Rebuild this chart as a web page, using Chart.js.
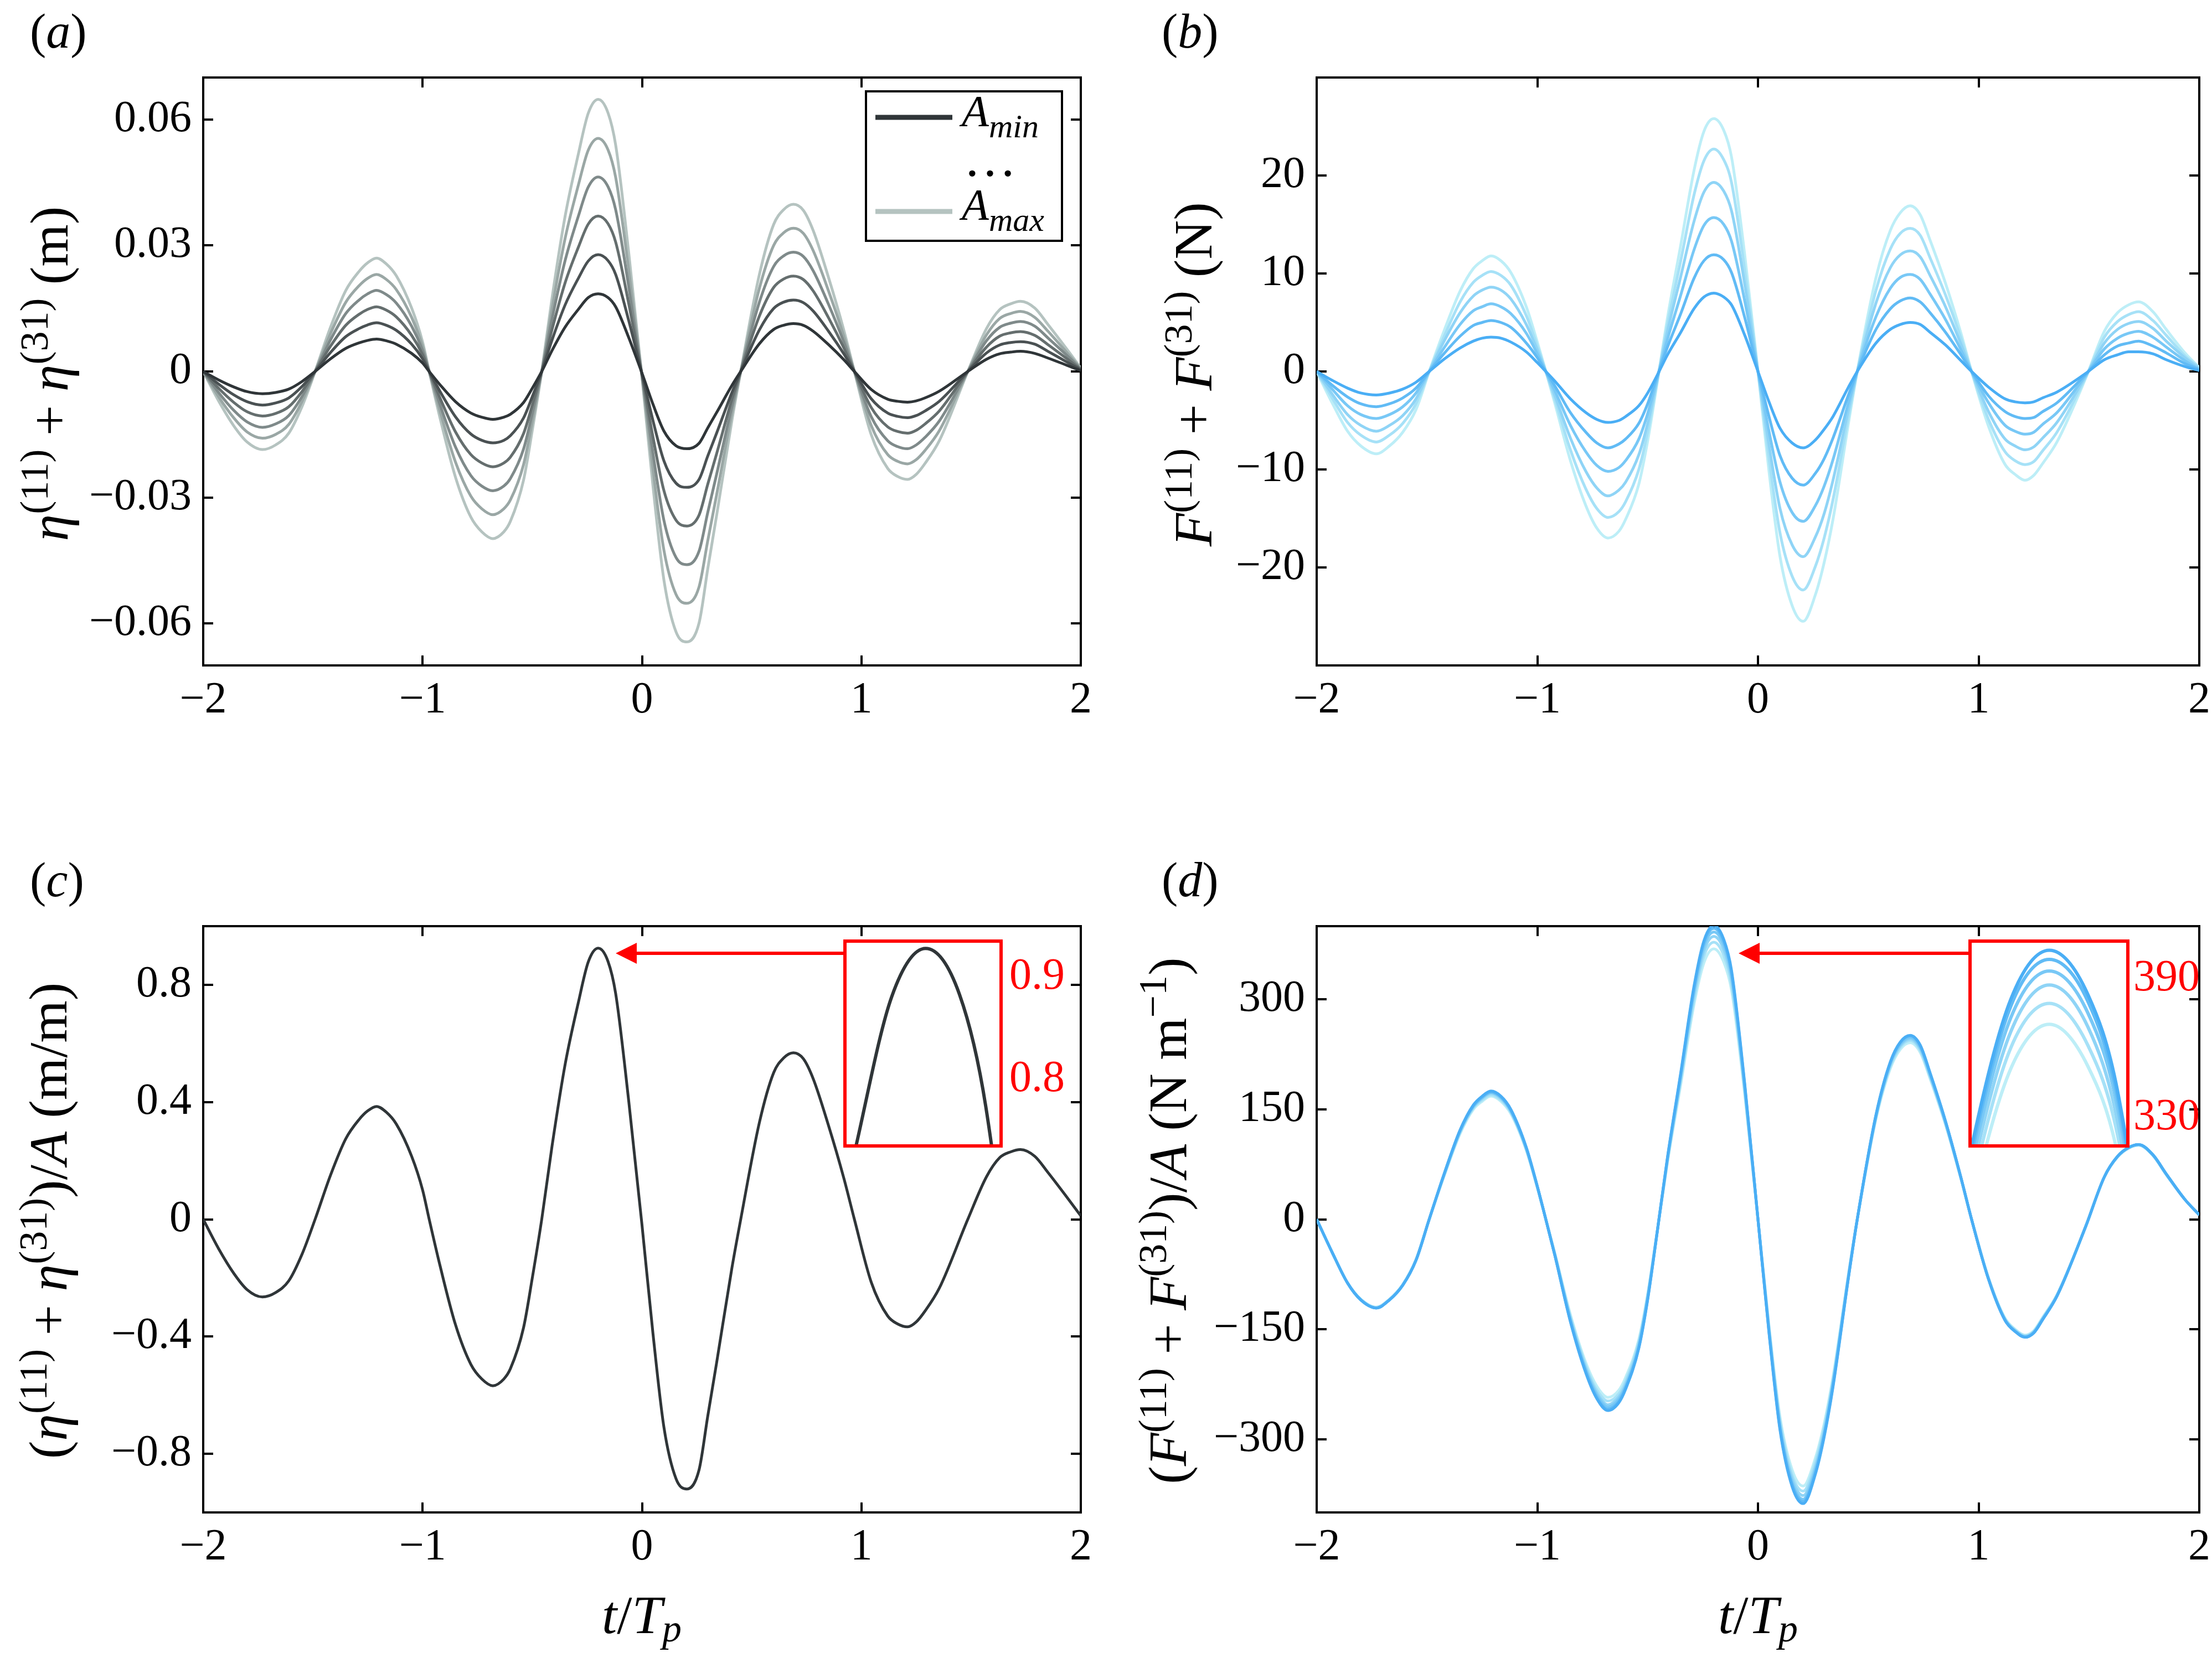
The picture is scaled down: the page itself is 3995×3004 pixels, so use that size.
<!DOCTYPE html>
<html>
<head>
<meta charset="utf-8">
<script src="https://cdn.jsdelivr.net/npm/chart.js@4.4.1/dist/chart.umd.min.js"></script>
<style>
  html, body { margin: 0; padding: 0; background: #fff; }
  #page { position: relative; width: 3995px; height: 3004px; overflow: hidden; background: #fff; }
  canvas { position: absolute; }
  svg { position: absolute; left: 0; top: 0; }
  text { font-family: 'Liberation Serif', 'Times New Roman', serif; white-space: pre; }
</style>
</head>
<body>
<div id="page">
  <canvas id="panelA"></canvas>
  <canvas id="panelB"></canvas>
  <canvas id="panelC"></canvas>
  <canvas id="panelD"></canvas>
  <canvas id="insetC" style="background:#fff"></canvas>
  <canvas id="insetD" style="background:#fff"></canvas>

  <svg width="3995" height="3004" viewBox="0 0 3995 3004">
    <!-- panel letters -->
    <text x="54" y="86" font-size="88">(<tspan font-style="italic">a</tspan>)</text>
    <text x="2098" y="86" font-size="88">(<tspan font-style="italic">b</tspan>)</text>
    <text x="54" y="1619" font-size="88">(<tspan font-style="italic">c</tspan>)</text>
    <text x="2098" y="1619" font-size="88">(<tspan font-style="italic">d</tspan>)</text>

    <!-- y titles -->
    <text transform="translate(122,675) rotate(-90)" text-anchor="middle" font-size="98"><tspan font-style="italic">η</tspan><tspan font-size="72" dy="-36">(11)</tspan><tspan dy="36"> + </tspan><tspan font-style="italic">η</tspan><tspan font-size="72" dy="-36">(31)</tspan><tspan dy="36"> (m)</tspan></text>
    <text transform="translate(2188,676) rotate(-90)" text-anchor="middle" font-size="98"><tspan font-style="italic">F</tspan><tspan font-size="72" dy="-36">(11)</tspan><tspan dy="36"> + </tspan><tspan font-style="italic">F</tspan><tspan font-size="72" dy="-36">(31)</tspan><tspan dy="36"> (N)</tspan></text>
    <text transform="translate(120,2205) rotate(-90)" text-anchor="middle" font-size="98">(<tspan font-style="italic">η</tspan><tspan font-size="72" dy="-36">(11)</tspan><tspan dy="36"> + </tspan><tspan font-style="italic">η</tspan><tspan font-size="72" dy="-36">(31)</tspan><tspan dy="36">)/</tspan><tspan font-style="italic">A</tspan> (m/m)</text>
    <text transform="translate(2142,2205) rotate(-90)" text-anchor="middle" font-size="98">(<tspan font-style="italic">F</tspan><tspan font-size="72" dy="-36">(11)</tspan><tspan dy="36"> + </tspan><tspan font-style="italic">F</tspan><tspan font-size="72" dy="-36">(31)</tspan><tspan dy="36">)/</tspan><tspan font-style="italic">A</tspan> (N m<tspan font-size="72" dy="-36">−1</tspan><tspan dy="36">)</tspan></text>

    <!-- x titles -->
    <text x="1159" y="2950" text-anchor="middle" font-size="98"><tspan font-style="italic">t</tspan>/<tspan font-style="italic">T</tspan><tspan font-style="italic" font-size="70" dy="15">p</tspan></text>
    <text x="3175" y="2950" text-anchor="middle" font-size="98"><tspan font-style="italic">t</tspan>/<tspan font-style="italic">T</tspan><tspan font-style="italic" font-size="70" dy="15">p</tspan></text>

    <!-- legend of panel a -->
    <rect x="1564" y="165" width="354" height="270" fill="#fff" stroke="#000" stroke-width="4"/>
    <line id="legMin" x1="1581" y1="212" x2="1720" y2="212" stroke-width="9"/>
    <line id="legMax" x1="1581" y1="382" x2="1720" y2="382" stroke-width="9"/>
    <text x="1737" y="228" font-size="80" font-style="italic">A<tspan font-size="60" dy="20">min</tspan></text>
    <text x="1740" y="318" font-size="96">…</text>
    <text x="1737" y="397" font-size="80" font-style="italic">A<tspan font-size="60" dy="20">max</tspan></text>

    <!-- zoom boxes and arrows -->
    <rect x="1526" y="1700" width="282" height="370" fill="none" stroke="#ff0000" stroke-width="6"/>
    <line x1="1146" y1="1722" x2="1523" y2="1722" stroke="#ff0000" stroke-width="6"/>
    <polygon points="1112,1722 1150,1703 1150,1741" fill="#ff0000"/>
    <text x="1823" y="1786" font-size="80" fill="#ff0000">0.9</text>
    <text x="1823" y="1971" font-size="80" fill="#ff0000">0.8</text>

    <rect x="3558" y="1700" width="285" height="370" fill="none" stroke="#ff0000" stroke-width="6"/>
    <line x1="3174" y1="1722" x2="3555" y2="1722" stroke="#ff0000" stroke-width="6"/>
    <polygon points="3140,1722 3178,1703 3178,1741" fill="#ff0000"/>
    <text x="3853" y="1789" font-size="80" fill="#ff0000">390</text>
    <text x="3853" y="2040" font-size="80" fill="#ff0000">330</text>
  </svg>
</div>

<script>
// time axis, t/Tp
const tGrid = [-2, -1.93, -1.86, -1.8, -1.73, -1.67, -1.61, -1.55, -1.49, -1.42, -1.35, -1.29, -1.25, -1.21,
  -1.165, -1.12, -1.05, -1.0, -0.97, -0.92, -0.85, -0.78, -0.73, -0.68, -0.63, -0.6, -0.54, -0.5, -0.457,
  -0.41, -0.35, -0.29, -0.245, -0.2, -0.155, -0.12, -0.06, 0, 0.05, 0.1, 0.155, 0.205, 0.26, 0.3, 0.34,
  0.41, 0.45, 0.535, 0.6, 0.645, 0.69, 0.735, 0.78, 0.85, 0.92, 0.968, 1.045, 1.12, 1.165, 1.21, 1.25,
  1.29, 1.355, 1.485, 1.57, 1.63, 1.68, 1.725, 1.79, 1.85, 1.935, 2];

// (a) eta(11)+eta(31) in m, Amin ... Amax
const eta1 = [0, -0.002, -0.0037, -0.0048, -0.0053, -0.005, -0.0042, -0.0024, 0, 0.003, 0.0055, 0.0068, 0.0074, 0.0077,
  0.0073, 0.0065, 0.0043, 0.002, 0, -0.0032, -0.0072, -0.0099, -0.0109, -0.0114, -0.0109, -0.0102, -0.0074, -0.004, 0,
  0.005, 0.0106, 0.0148, 0.0176, 0.0185, 0.0176, 0.0154, 0.008, -0.0004, -0.0078, -0.0142, -0.0177, -0.0184, -0.0171, -0.0134, -0.0098,
  -0.0033, 0, 0.0066, 0.01, 0.011, 0.0114, 0.011, 0.0096, 0.0064, 0.0028, 0, -0.0043, -0.0066, -0.0071, -0.0073, -0.007,
  -0.0063, -0.0047, 0, 0.0029, 0.0042, 0.0046, 0.0048, 0.0043, 0.0032, 0.0015, 0.0002];
const eta2 = [0, -0.003, -0.0056, -0.0072, -0.008, -0.0075, -0.0063, -0.0036, 0, 0.0045, 0.0083, 0.0102, 0.0111, 0.0116,
  0.011, 0.0098, 0.0065, 0.003, 0, -0.0048, -0.0108, -0.0149, -0.0164, -0.017, -0.0164, -0.0153, -0.0111, -0.006, 0,
  0.0075, 0.0159, 0.0222, 0.0263, 0.0278, 0.0264, 0.0231, 0.012, -0.0006, -0.0117, -0.0213, -0.0266, -0.0276, -0.0257, -0.0201, -0.0147,
  -0.005, 0, 0.0099, 0.015, 0.0165, 0.017, 0.0164, 0.0144, 0.0096, 0.0042, 0, -0.0065, -0.0099, -0.0107, -0.011, -0.0105,
  -0.0094, -0.0071, 0, 0.0044, 0.0063, 0.0069, 0.0071, 0.0065, 0.0048, 0.0023, 0.0004];
const eta3 = [0, -0.004, -0.0074, -0.0096, -0.0106, -0.01, -0.0084, -0.0048, 0, 0.006, 0.011, 0.0136, 0.0148, 0.0154,
  0.0146, 0.013, 0.0086, 0.004, 0, -0.0064, -0.0144, -0.0198, -0.0218, -0.0227, -0.0218, -0.0204, -0.0148, -0.008, 0,
  0.01, 0.0212, 0.0296, 0.0351, 0.037, 0.0352, 0.0308, 0.016, -0.0008, -0.0156, -0.0284, -0.0354, -0.0368, -0.0342, -0.0268, -0.0196,
  -0.0066, 0, 0.0132, 0.02, 0.022, 0.0227, 0.0219, 0.0192, 0.0128, 0.0056, 0, -0.0086, -0.0132, -0.0143, -0.0147, -0.014,
  -0.0125, -0.0094, 0, 0.0058, 0.0084, 0.0092, 0.0095, 0.0086, 0.0064, 0.0031, 0.0005];
const eta4 = [0, -0.005, -0.0093, -0.012, -0.0133, -0.0125, -0.0105, -0.006, 0, 0.0075, 0.0138, 0.017, 0.0185, 0.0193,
  0.0183, 0.0163, 0.0108, 0.005, 0, -0.008, -0.018, -0.0248, -0.0273, -0.0284, -0.0273, -0.0255, -0.0185, -0.01, 0,
  0.0125, 0.0265, 0.037, 0.0439, 0.0463, 0.044, 0.0385, 0.02, -0.001, -0.0195, -0.0355, -0.0443, -0.046, -0.0428, -0.0335, -0.0245,
  -0.0083, 0, 0.0165, 0.025, 0.0275, 0.0284, 0.0274, 0.024, 0.016, 0.007, 0, -0.0108, -0.0165, -0.0179, -0.0184, -0.0175,
  -0.0157, -0.0118, 0, 0.0073, 0.0105, 0.0115, 0.0119, 0.0108, 0.008, 0.0039, 0.0006];
const eta5 = [0, -0.006, -0.0111, -0.0144, -0.0159, -0.015, -0.0126, -0.0072, 0, 0.009, 0.0165, 0.0204, 0.0222, 0.0231,
  0.0219, 0.0195, 0.0129, 0.006, 0, -0.0096, -0.0216, -0.0297, -0.0327, -0.0341, -0.0327, -0.0306, -0.0222, -0.012, 0,
  0.015, 0.0318, 0.0444, 0.0527, 0.0555, 0.0528, 0.0462, 0.024, -0.0012, -0.0234, -0.0426, -0.0531, -0.0552, -0.0513, -0.0402, -0.0294,
  -0.0099, 0, 0.0198, 0.03, 0.033, 0.0341, 0.0329, 0.0288, 0.0192, 0.0084, 0, -0.0129, -0.0198, -0.0214, -0.022, -0.021,
  -0.0188, -0.0141, 0, 0.0087, 0.0126, 0.0138, 0.0143, 0.0129, 0.0096, 0.0046, 0.0007];
const eta6 = [0, -0.007, -0.013, -0.0168, -0.0186, -0.0175, -0.0147, -0.0084, 0, 0.0105, 0.0193, 0.0238, 0.0259, 0.027,
  0.0256, 0.0228, 0.0151, 0.007, 0, -0.0112, -0.0252, -0.0347, -0.0382, -0.0398, -0.0382, -0.0357, -0.0259, -0.014, 0,
  0.0175, 0.0371, 0.0518, 0.0615, 0.0648, 0.0616, 0.0539, 0.028, -0.0014, -0.0273, -0.0497, -0.062, -0.0644, -0.0599, -0.0469, -0.0343,
  -0.0116, 0, 0.0231, 0.035, 0.0385, 0.0398, 0.0384, 0.0336, 0.0224, 0.0098, 0, -0.0151, -0.0231, -0.025, -0.0257, -0.0245,
  -0.0219, -0.0165, 0, 0.0102, 0.0147, 0.0161, 0.0167, 0.0151, 0.0112, 0.0054, 0.0008];

// (b) F(11)+F(31) in N
const force1 = [0, -0.9, -1.7, -2.2, -2.4, -2.2, -1.8, -1.1, 0, 1.3, 2.4, 3.1, 3.4, 3.5,
  3.4, 3.0, 2.0, 0.9, 0.2, -1.0, -2.8, -4.2, -4.9, -5.2, -5.0, -4.6, -3.5, -2.2, -0.4,
  1.7, 4.0, 6.4, 7.6, 8.0, 7.6, 6.8, 3.7, 0, -3.1, -5.8, -7.3, -7.8, -7.0, -5.9, -4.6,
  -1.6, 0, 2.9, 4.3, 4.8, 5.0, 4.8, 4.0, 2.7, 1.1, 0, -1.6, -2.8, -3.1, -3.2, -3.1,
  -2.7, -2.1, -0.2, 1.2, 1.7, 2.0, 2.0, 1.8, 1.2, 0.5, 0.1];
const force2 = [0, -1.4, -2.6, -3.3, -3.6, -3.3, -2.7, -1.7, 0, 1.9, 3.6, 4.7, 5.0, 5.2,
  5.0, 4.5, 2.9, 1.4, 0.3, -1.5, -4.2, -6.2, -7.3, -7.8, -7.4, -6.9, -5.3, -3.3, -0.5,
  2.5, 5.9, 9.5, 11.3, 11.9, 11.4, 10.1, 5.5, 0, -4.6, -8.6, -10.9, -11.6, -10.4, -8.9, -6.8,
  -2.4, 0, 4.3, 6.4, 7.2, 7.5, 7.1, 6.0, 4.0, 1.7, 0, -2.5, -4.1, -4.6, -4.8, -4.7,
  -4.1, -3.2, -0.3, 1.7, 2.6, 2.9, 3.1, 2.6, 1.9, 0.8, 0.2];
const force3 = [0, -1.8, -3.5, -4.4, -4.8, -4.4, -3.6, -2.2, 0, 2.5, 4.8, 6.2, 6.6, 6.9,
  6.6, 5.9, 3.9, 1.8, 0.4, -2.0, -5.5, -8.2, -9.6, -10.2, -9.8, -9.1, -6.9, -4.3, -0.7,
  3.3, 7.8, 12.4, 14.9, 15.7, 15.0, 13.3, 7.2, 0, -6.1, -11.3, -14.4, -15.3, -13.7, -11.7, -9.0,
  -3.2, 0, 5.6, 8.5, 9.6, 9.9, 9.4, 7.9, 5.3, 2.2, 0, -3.2, -5.5, -6.1, -6.4, -6.2,
  -5.4, -4.2, -0.4, 2.3, 3.4, 3.9, 4.1, 3.5, 2.5, 1.1, 0.2];
const force4 = [0, -2.3, -4.4, -5.5, -6.1, -5.5, -4.5, -2.8, 0, 3.2, 6.0, 7.7, 8.3, 8.6,
  8.3, 7.4, 4.8, 2.2, 0.5, -2.5, -6.8, -10.2, -11.9, -12.7, -12.1, -11.3, -8.5, -5.3, -0.9,
  4.1, 9.7, 15.3, 18.3, 19.3, 18.4, 16.4, 8.9, 0, -7.5, -14.0, -17.7, -18.9, -16.9, -14.5, -11.1,
  -3.9, 0, 7.0, 10.6, 11.9, 12.3, 11.7, 9.8, 6.6, 2.8, 0, -4.1, -6.9, -7.6, -8.0, -7.7,
  -6.8, -5.2, -0.5, 2.9, 4.3, 4.9, 5.1, 4.4, 3.1, 1.4, 0.3];
const force5 = [0, -2.7, -5.2, -6.5, -7.2, -6.5, -5.3, -3.3, 0, 3.7, 7.1, 9.1, 9.8, 10.2,
  9.8, 8.8, 5.7, 2.6, 0.6, -2.9, -8.0, -12.0, -14.0, -14.9, -14.3, -13.3, -10.0, -6.2, -1.0,
  4.8, 11.3, 18.0, 21.5, 22.7, 21.6, 19.3, 10.4, 0, -8.9, -16.5, -20.9, -22.3, -19.9, -17.0, -13.1,
  -4.6, 0, 8.3, 12.5, 14.1, 14.6, 13.9, 11.6, 7.8, 3.4, 0, -4.9, -8.2, -9.1, -9.5, -9.2,
  -8.1, -6.2, -0.6, 3.5, 5.1, 5.8, 6.1, 5.2, 3.7, 1.6, 0.4];
const force6 = [0, -3.2, -6.1, -7.6, -8.4, -7.6, -6.2, -3.9, 0, 4.3, 8.2, 10.5, 11.3, 11.8,
  11.3, 10.1, 6.6, 3.0, 0.7, -3.3, -9.1, -13.7, -16.0, -17.0, -16.3, -15.1, -11.5, -7.1, -1.2,
  5.5, 12.9, 20.5, 24.5, 25.8, 24.6, 21.9, 11.9, 0, -10.2, -18.9, -23.9, -25.5, -22.8, -19.5, -15.1,
  -5.3, 0, 9.6, 14.4, 16.2, 16.9, 16.0, 13.4, 9.0, 3.9, 0, -5.6, -9.5, -10.5, -11.1, -10.6,
  -9.4, -7.2, -0.7, 4.1, 6.0, 6.8, 7.1, 6.1, 4.3, 1.9, 0.4];

// (c) (eta(11)+eta(31))/A in m/m (all amplitudes collapse onto one curve)
const etaPerA = [0, -0.1, -0.185, -0.24, -0.265, -0.25, -0.21, -0.12, 0, 0.15, 0.275, 0.34, 0.37, 0.385,
  0.365, 0.325, 0.215, 0.1, 0, -0.16, -0.36, -0.495, -0.545, -0.568, -0.545, -0.51, -0.37, -0.2, 0,
  0.25, 0.53, 0.74, 0.878, 0.925, 0.88, 0.77, 0.4, -0.02, -0.39, -0.71, -0.885, -0.92, -0.855, -0.67, -0.49,
  -0.165, 0, 0.33, 0.5, 0.55, 0.568, 0.548, 0.48, 0.32, 0.14, 0, -0.215, -0.33, -0.357, -0.367, -0.35,
  -0.313, -0.235, 0, 0.145, 0.21, 0.23, 0.238, 0.215, 0.16, 0.077, 0.012];

// (d) (F(11)+F(31))/A in N/m
const forcePerA1 = [0, -45, -87, -110, -121, -110, -90, -56, 0, 64, 122, 156, 168, 175,
  168, 150, 98, 45, 10, -50, -140, -210, -245, -261, -250, -232, -176, -110, -18,
  85, 200, 318, 380, 401, 382, 340, 185, 0, -155, -288, -365, -388, -348, -297, -229,
  -80, 0, 143, 215, 242, 251, 238, 200, 134, 57, 0, -82, -138, -153, -161, -155,
  -137, -105, -10, 58, 86, 98, 102, 88, 62, 27, 6];
const forcePerA2 = [0, -45, -87, -110, -121, -110, -90, -56, 0, 64, 121, 155, 167, 174,
  167, 149, 98, 45, 10, -50, -139, -208, -243, -259, -248, -230, -175, -109, -18,
  84, 198, 315, 377, 397, 379, 337, 183, 0, -154, -286, -362, -385, -346, -295, -227,
  -79, 0, 142, 214, 241, 250, 237, 199, 133, 57, 0, -82, -138, -153, -161, -155,
  -137, -105, -10, 58, 86, 98, 102, 88, 62, 27, 6];
const forcePerA3 = [0, -45, -87, -110, -121, -110, -90, -56, 0, 63, 121, 154, 166, 173,
  166, 148, 97, 44, 10, -49, -137, -206, -240, -256, -245, -228, -173, -108, -18,
  83, 196, 311, 372, 392, 374, 333, 181, 0, -152, -283, -359, -382, -342, -292, -225,
  -79, 0, 141, 213, 239, 248, 235, 198, 133, 56, 0, -81, -137, -152, -160, -154,
  -136, -104, -10, 58, 86, 98, 102, 88, 62, 27, 6];
const forcePerA4 = [0, -45, -87, -110, -121, -110, -90, -56, 0, 63, 120, 153, 165, 172,
  165, 147, 96, 44, 10, -49, -135, -203, -237, -253, -242, -225, -170, -106, -18,
  82, 193, 306, 366, 386, 368, 327, 178, 0, -150, -280, -354, -377, -338, -289, -222,
  -78, 0, 140, 211, 237, 246, 233, 196, 132, 56, 0, -81, -137, -152, -160, -154,
  -136, -104, -10, 58, 86, 98, 102, 88, 62, 27, 6];
const forcePerA5 = [0, -45, -87, -109, -120, -109, -89, -55, 0, 62, 118, 152, 163, 170,
  163, 146, 95, 44, 10, -48, -133, -200, -233, -248, -238, -221, -167, -104, -17,
  80, 189, 300, 359, 378, 360, 321, 174, 0, -148, -275, -349, -371, -332, -284, -219,
  -76, 0, 139, 209, 235, 244, 231, 194, 130, 56, 0, -81, -136, -151, -159, -153,
  -135, -104, -10, 58, 85, 97, 101, 87, 61, 27, 6];
const forcePerA6 = [0, -45, -87, -109, -120, -109, -89, -55, 0, 61, 117, 150, 161, 168,
  161, 144, 94, 43, 10, -47, -130, -196, -228, -243, -233, -216, -164, -102, -17,
  78, 184, 293, 350, 369, 351, 313, 170, 0, -145, -270, -342, -364, -326, -279, -215,
  -75, 0, 137, 206, 232, 241, 228, 192, 129, 55, 0, -80, -135, -150, -158, -152,
  -134, -103, -10, 58, 85, 97, 101, 87, 61, 27, 6];

// ticks
const xTicks = [-2, -1, 0, 1, 2];
const xTickLabels = ['−2', '−1', '0', '1', '2'];
const etaTicks = [-0.06, -0.03, 0, 0.03, 0.06];
const etaTickLabels = ['−0.06', '−0.03', '0', '0.03', '0.06'];
const forceTicks = [-20, -10, 0, 10, 20];
const forceTickLabels = ['−20', '−10', '0', '10', '20'];
const etaPerATicks = [-0.8, -0.4, 0, 0.4, 0.8];
const etaPerATickLabels = ['−0.8', '−0.4', '0', '0.4', '0.8'];
const forcePerATicks = [-300, -150, 0, 150, 300];
const forcePerATickLabels = ['−300', '−150', '0', '150', '300'];

// colours: first entry = Amin
const greyShades = ['#2f3538', '#4a5153', '#656e6e', '#7f8a8a', '#9aa7a5', '#b5c3c0'];
const blueShades = ['#4aaef5', '#61bbf5', '#78c8f6', '#8fd4f6', '#a6e1f7', '#bdeef7'];

// layout (page pixels)
const AXIS_W = 300, AXIS_H = 150, TOP_PAD = 12, RIGHT_PAD = 40;
const tickFont = { family: "'Liberation Serif', 'Times New Roman', serif", size: 80 };

function toPoints(values) {
  return tGrid.map((t, i) => ({ x: t, y: values[i] }));
}

function lineSets(seriesList, colors, width) {
  return seriesList.map((s, k) => ({
    data: toPoints(s),
    borderColor: colors[k],
    borderWidth: width,
    pointRadius: 0,
    fill: false,
    cubicInterpolationMode: 'monotone'
  }));
}

function axis(pos, range, ticks, labels, showLabels) {
  return {
    type: 'linear',
    position: pos,
    min: range[0],
    max: range[1],
    afterBuildTicks: s => { s.ticks = ticks.map(v => ({ value: v })); },
    afterFit: s => {
      if (pos === 'left') s.width = AXIS_W;
      else if (pos === 'right') s.width = RIGHT_PAD;
      else if (pos === 'bottom') s.height = AXIS_H;
      else s.height = TOP_PAD;
      // keep label overhang from shrinking the plot area
      s.paddingTop = 0; s.paddingBottom = 0; s.paddingLeft = 0; s.paddingRight = 0;
    },
    grid: { drawOnChartArea: false, drawTicks: true, tickLength: -18, lineWidth: 4, color: '#000' },
    border: { display: true, color: '#000', width: 4 },
    ticks: {
      display: showLabels,
      autoSkip: false,
      maxRotation: 0,
      font: tickFont,
      color: '#000',
      padding: pos === 'left' ? 39 : 34,
      callback: (v, i) => labels[i]
    }
  };
}

function placeCanvas(canvas, x, y, w, h) {
  canvas.width = w;
  canvas.height = h;
  canvas.style.left = x + 'px';
  canvas.style.top = y + 'px';
  canvas.style.width = w + 'px';
  canvas.style.height = h + 'px';
}

const baseOptions = {
  responsive: false,
  animation: false,
  devicePixelRatio: 1,
  events: [],
  layout: { padding: 0 },
  plugins: { legend: { display: false }, tooltip: { enabled: false } }
};

function makePanel(id, plot, yRange, yTicks, yLabels, seriesList, colors) {
  const canvas = document.getElementById(id);
  const w = AXIS_W + (plot.right - plot.left) + RIGHT_PAD;
  const h = TOP_PAD + (plot.bottom - plot.top) + AXIS_H;
  placeCanvas(canvas, plot.left - AXIS_W, plot.top - TOP_PAD, w, h);
  return new Chart(canvas, {
    type: 'line',
    data: { datasets: lineSets(seriesList, colors, 5) },
    options: {
      ...baseOptions,
      scales: {
        x: axis('bottom', [-2, 2], xTicks, xTickLabels, true),
        x2: axis('top', [-2, 2], xTicks, xTickLabels, false),
        y: axis('left', yRange, yTicks, yLabels, true),
        y2: axis('right', yRange, yTicks, yLabels, false)
      }
    }
  });
}

function makeInset(id, box, xRange, yRange, seriesList, colors) {
  const canvas = document.getElementById(id);
  placeCanvas(canvas, box.left, box.top, box.right - box.left, box.bottom - box.top);
  return new Chart(canvas, {
    type: 'line',
    data: { datasets: lineSets(seriesList, colors, 6) },
    options: {
      ...baseOptions,
      scales: {
        x: { type: 'linear', display: false, min: xRange[0], max: xRange[1] },
        y: { type: 'linear', display: false, min: yRange[0], max: yRange[1] }
      }
    }
  });
}

makePanel('panelA', { left: 367, top: 140, right: 1952, bottom: 1202 }, [-0.07, 0.07], etaTicks, etaTickLabels,
  [eta1, eta2, eta3, eta4, eta5, eta6], greyShades);
makePanel('panelB', { left: 2378, top: 140, right: 3972, bottom: 1202 }, [-30, 30], forceTicks, forceTickLabels,
  [force1, force2, force3, force4, force5, force6], blueShades);
makePanel('panelC', { left: 367, top: 1673, right: 1952, bottom: 2732 }, [-1, 1], etaPerATicks, etaPerATickLabels,
  [etaPerA], greyShades);
makePanel('panelD', { left: 2378, top: 1673, right: 3972, bottom: 2732 }, [-400, 400], forcePerATicks, forcePerATickLabels,
  [forcePerA1, forcePerA2, forcePerA3, forcePerA4, forcePerA5, forcePerA6], blueShades);

makeInset('insetC', { left: 1529, top: 1703, right: 1805, bottom: 2067 }, [-0.305, -0.102], [0.7336, 0.9306],
  [etaPerA], greyShades);
makeInset('insetD', { left: 3561, top: 1703, right: 3840, bottom: 2067 }, [-0.291, -0.110], [317.2, 404.2],
  [forcePerA1, forcePerA2, forcePerA3, forcePerA4, forcePerA5, forcePerA6], blueShades);

document.getElementById('legMin').setAttribute('stroke', greyShades[0]);
document.getElementById('legMax').setAttribute('stroke', greyShades[5]);
</script>
</body>
</html>
